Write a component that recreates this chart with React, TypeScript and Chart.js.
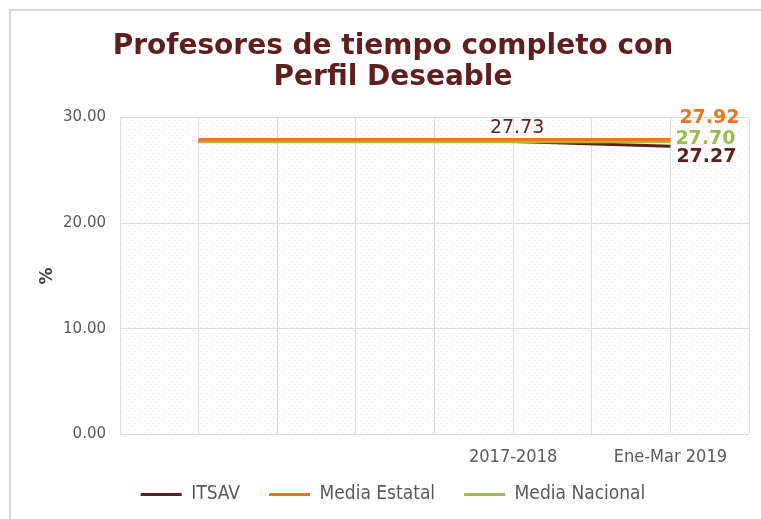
import { useEffect, useRef } from "react";
import { Chart, registerables } from "chart.js";

Chart.register(...registerables);

const titleLines = ["Profesores de tiempo completo con", "Perfil Deseable"];
const categories = ["", "", "", "", "", "2017-2018", "", "Ene-Mar 2019", ""];
const seriesNames = ["ITSAV", "Media Estatal", "Media Nacional"];
const itsavValues = [null, 27.73, 27.73, 27.73, 27.73, 27.73, null, 27.27, null];
const estatalValues = [null, 27.92, 27.92, 27.92, 27.92, 27.92, 27.92, 27.92, null];
const nacionalValues = [null, 27.7, 27.7, 27.7, 27.7, 27.7, 27.7, 27.7, null];
const yMin = 0;
const yMax = 30;
const yStep = 10;
const seriesColors = ["#5E1F1E", "#EB7425", "#9BBB59"];

export default function App() {
  const ref = useRef<HTMLCanvasElement | null>(null);

  useEffect(() => {
    document.body.style.margin = "0";
    const canvas = ref.current!;

    const tile = document.createElement("canvas");
    tile.width = 6;
    tile.height = 6;
    const tctx = tile.getContext("2d")!;
    tctx.fillStyle = "rgba(0,0,0,0.09)";
    tctx.fillRect(0, 0, 1, 1);
    tctx.fillRect(3, 3, 1, 1);

    const bgPlugin = {
      id: "bg",
      beforeDraw(chart: any) {
        const { ctx, chartArea } = chart;
        ctx.save();
        ctx.fillStyle = "#ffffff";
        ctx.fillRect(0, 0, chart.width, chart.height);
        ctx.strokeStyle = "#d9d9d9";
        ctx.lineWidth = 2;
        ctx.beginPath();
        ctx.moveTo(10, chart.height + 5);
        ctx.lineTo(10, 10);
        ctx.lineTo(chart.width + 5, 10);
        ctx.stroke();
        const pat = ctx.createPattern(tile, "repeat");
        if (pat) {
          ctx.fillStyle = pat;
          ctx.fillRect(chartArea.left, chartArea.top, chartArea.right - chartArea.left, chartArea.bottom - chartArea.top);
        }
        ctx.restore();
      },
    };

    const labelPlugin = {
      id: "valueLabels",
      afterDatasetsDraw(chart: any) {
        const ctx = chart.ctx;
        ctx.save();
        const draw = (ds: number, idx: number, dx: number, dy: number, bold: boolean, align: CanvasTextAlign, color: string) => {
          const meta = chart.getDatasetMeta(ds);
          const pt = meta.data[idx];
          const v = chart.data.datasets[ds].data[idx] as number;
          ctx.font = (bold ? "bold " : "") + "19px 'DejaVu Sans'";
          ctx.fillStyle = color;
          ctx.textAlign = align;
          ctx.textBaseline = "middle";
          ctx.fillText(v.toFixed(2), pt.x + dx, pt.y + dy);
        };
        draw(0, 5, 4, -13, false, "center", seriesColors[0]);
        draw(1, 7, 9, -21, true, "left", seriesColors[1]);
        draw(2, 7, 5, -3, true, "left", seriesColors[2]);
        draw(0, 7, 6, 11, true, "left", seriesColors[0]);
        ctx.restore();
      },
    };

    const chart = new Chart(canvas, {
      type: "line",
      data: {
        labels: categories,
        datasets: [
          { label: seriesNames[0], data: itsavValues, borderColor: seriesColors[0], backgroundColor: seriesColors[0], borderWidth: 3, pointRadius: 0, spanGaps: true, order: 3 },
          { label: seriesNames[1], data: estatalValues, borderColor: seriesColors[1], backgroundColor: seriesColors[1], borderWidth: 3, pointRadius: 0, spanGaps: true, order: 1 },
          { label: seriesNames[2], data: nacionalValues, borderColor: seriesColors[2], backgroundColor: seriesColors[2], borderWidth: 3, pointRadius: 0, spanGaps: true, order: 2 },
        ],
      },
      options: {
        responsive: false,
        animation: false,
        layout: { padding: { left: 37, right: 12, top: 20, bottom: 5 } },
        plugins: {
          tooltip: { enabled: false },
          title: {
            display: true,
            text: titleLines,
            color: "#5E1F1E",
            font: { family: "'DejaVu Sans'", weight: "bold", size: 28, lineHeight: 1.08 },
            padding: { top: 12, bottom: 25 },
          },
          legend: {
            position: "bottom",
            labels: {
              boxWidth: 41,
              boxHeight: 3,
              color: "#595959",
              font: { family: "'DejaVu Sans Condensed'", size: 19 },
              padding: 29,
              generateLabels(chart: any) {
                return chart.data.datasets.map((d: any, i: number) => ({
                  text: d.label,
                  fillStyle: d.borderColor,
                  strokeStyle: d.borderColor,
                  lineWidth: 0,
                  fontColor: "#595959",
                  datasetIndex: i,
                  hidden: false,
                }));
              },
            },
          },
        },
        scales: {
          x: {
            offset: false,
            grid: { color: "#dcdcdc", lineWidth: 1, drawTicks: false },
            border: { display: false },
            afterFit(scale: any) {
              scale.height = scale.height - 24;
              scale._computeLabelArea = () => undefined;
            },
            ticks: {
              autoSkip: false,
              maxRotation: 0,
              color: "#595959",
              font: { family: "'DejaVu Sans Condensed'", size: 18 },
              padding: 12,
            },
          },
          y: {
            min: yMin,
            max: yMax,
            grid: { color: "#dcdcdc", lineWidth: 1, drawTicks: false },
            border: { display: false },
            afterFit(scale: any) {
              scale.width = 83;
            },
            title: {
              display: true,
              text: "%",
              color: "#404040",
              font: { family: "'DejaVu Sans'", weight: "bold", size: 17 },
              padding: { top: 0, bottom: 0 },
            },
            ticks: {
              stepSize: yStep,
              color: "#595959",
              font: { family: "'DejaVu Sans'", size: 15 },
              padding: 14,
              callback: (v: any) => Number(v).toFixed(2),
            },
          },
        },
      },
      plugins: [bgPlugin, labelPlugin],
    });
    return () => chart.destroy();
  }, []);

  return <canvas ref={ref} width={761} height={519} style={{ display: "block" }} />;
}
